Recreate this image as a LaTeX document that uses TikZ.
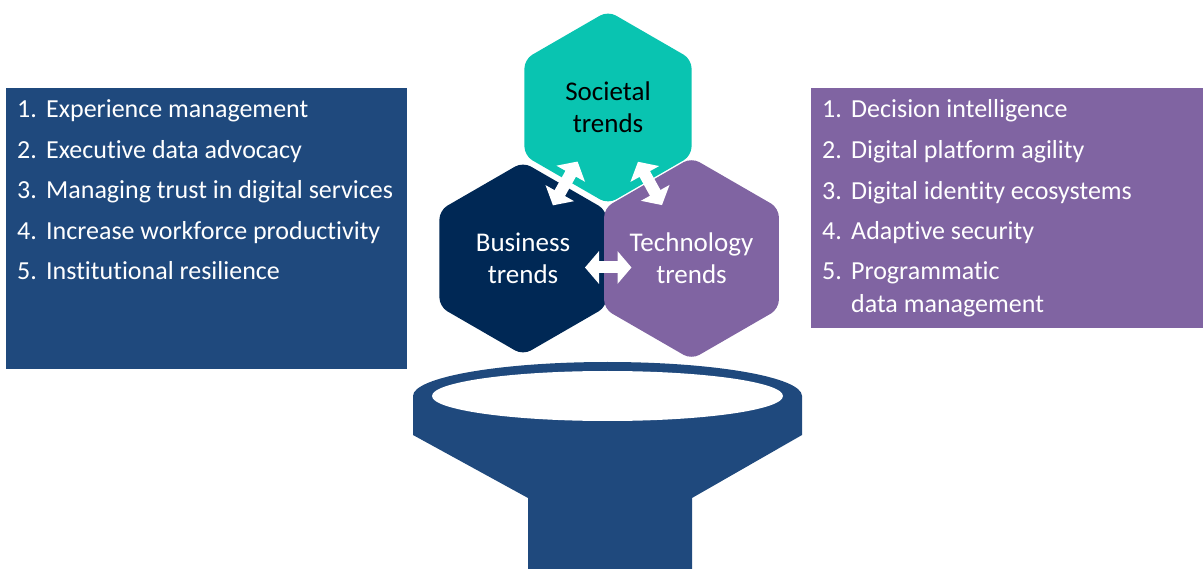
\documentclass[tikz,border=0pt]{standalone}
\usepackage{fontspec}
\setmainfont{Carlito}[Ligatures=NoCommon]
\usetikzlibrary{shapes, shapes.geometric, arrows, arrows.meta}
\definecolor{boxblue}{HTML}{1F497D}
\definecolor{bizblue}{HTML}{002855}
\definecolor{socteal}{HTML}{09C4B1}
\definecolor{techpurple}{HTML}{8064A2}

\tikzset{
  hexnode/.style={regular polygon, regular polygon sides=6, shape border rotate=90,
    minimum size=193pt, rounded corners=9pt, inner sep=0pt, align=center,
    font=\fontsize{27}{32}\selectfont},
  listbox/.style={rectangle, anchor=north west, inner sep=0pt, outer sep=0pt},
  listitem/.style={anchor=base west, inner sep=0pt, text=white, font=\fontsize{26}{30}\selectfont},
  dblarrow/.style={white, line width=12pt,
    {Triangle[length=14pt,width=32pt]}-{Triangle[length=14pt,width=32pt]}},
}

\begin{document}
\begin{tikzpicture}[x=1pt, y=-1pt]
            \useasboundingbox (0,0) rectangle (1203,569);

            % lists
            \node[listbox, fill=boxblue, minimum width=401pt, minimum height=281pt] (bizbox) at (6,88) {};
            \node[listbox, fill=techpurple, minimum width=392pt, minimum height=240pt] (techbox) at (811,88) {};

            \node[listitem] (b1) at (17,118) {\makebox[29pt][l]{1.}Experience management};
            \node[listitem] (b2) at (17,158.5) {\makebox[29pt][l]{2.}Executive data advocacy};
            \node[listitem] (b3) at (17,199) {\makebox[29pt][l]{3.}Managing trust in digital services};
            \node[listitem] (b4) at (17,239.5) {\makebox[29pt][l]{4.}Increase workforce productivity};
            \node[listitem] (b5) at (17,280) {\makebox[29pt][l]{5.}Institutional resilience};

            \node[listitem] (t1) at (822,118) {\makebox[29pt][l]{1.}Decision intelligence};
            \node[listitem] (t2) at (822,159) {\makebox[29pt][l]{2.}Digital platform agility};
            \node[listitem] (t3) at (822,200) {\makebox[29pt][l]{3.}Digital identity ecosystems};
            \node[listitem] (t4) at (822,240) {\makebox[29pt][l]{4.}Adaptive security};
            \node[listitem] (t5) at (822,280) {\makebox[29pt][l]{5.}Programmatic};
            \node[listitem] (t5b) at (851,313) {data management};

            % funnel
            \fill[boxblue] (607.5,396) ellipse [x radius=194.5pt, y radius=34pt];
            \fill[boxblue] (413,396) -- (802,396) -- (802,435) -- (692,498) -- (692,569)
                -- (528,569) -- (528,498) -- (413,435) -- cycle;
            \fill[white] (607.5,396) ellipse [x radius=175.5pt, y radius=25pt];

            % trends
            \node[hexnode, fill=socteal, text=black] (soc) at (608,107.5) {Societal\\trends};
            \node[hexnode, fill=bizblue, text=white] (bus) at (523,258.5) {Business\\trends};
            \node[hexnode, fill=techpurple, text=white] (tech) at (691.5,258.5) {Technology\\trends};

            \draw[dblarrow, shorten <=61pt, shorten >=62pt] (bus.center) -- (soc.center);
            \draw[dblarrow, shorten <=62pt, shorten >=61pt] (soc.center) -- (tech.center);
            \draw[dblarrow, shorten <=62pt, shorten >=60pt] ([yshift=-9pt]bus.center) -- ([yshift=-9pt]tech.center);
    	\end{tikzpicture}
\end{document}
